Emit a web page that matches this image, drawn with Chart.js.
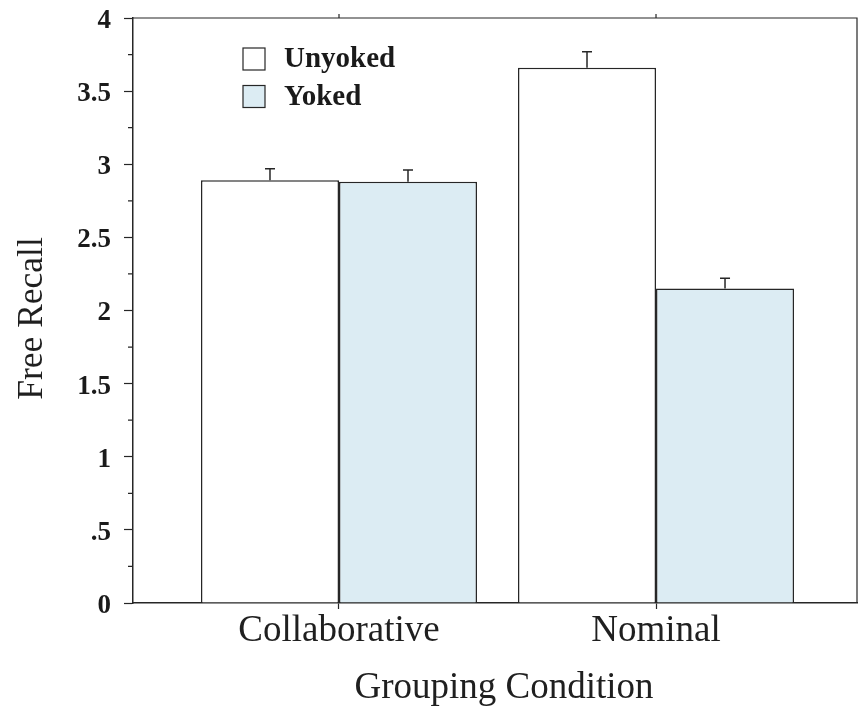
<!DOCTYPE html>
<html>
<head>
<meta charset="utf-8">
<title>Free Recall by Grouping Condition</title>
<script src="https://cdn.jsdelivr.net/npm/chart.js@4.4.1/dist/chart.umd.min.js"></script>
<style>
  html, body { margin: 0; padding: 0; background: #ffffff; }
  #wrap { width: 859px; height: 712px; }
</style>
</head>
<body>
<div id="wrap"><canvas id="c" width="859" height="712"></canvas></div>
<script>
// Group labels and mean free recall per condition
const categories = ['Collaborative', 'Nominal'];
const seriesNames = ['Unyoked', 'Yoked'];
const unyoked = [2.89, 3.66];
const yoked = [2.88, 2.15];
// Standard error (upper whisker only)
const unyokedErr = [0.08, 0.11];
const yokedErr = [0.08, 0.07];
// Y axis tick labels (0 to 4 in steps of .5) and minor tick values
const yTickLabels = ['0', '.5', '1', '1.5', '2', '2.5', '3', '3.5', '4'];
const yMinorTicks = [0.25, 0.75, 1.25, 1.75, 2.25, 2.75, 3.25, 3.75];
// Axis titles
const xTitle = 'Grouping Condition';
const yTitle = 'Free Recall';

const SERIF = '"Liberation Serif", "Times New Roman", Times, serif';
const INK = '#262626';
const YOKED_FILL = 'rgb(220, 236, 243)';

const toPoints = vals => vals.map((v, i) => ({ x: i + 1, y: v }));

// Upper error whiskers with a small cap
const errorBars = {
  id: 'errorBars',
  afterDatasetsDraw(chart) {
    const { ctx } = chart;
    const yScale = chart.scales.y;
    ctx.save();
    ctx.strokeStyle = INK;
    ctx.lineWidth = 1.5;
    chart.data.datasets.forEach((ds, di) => {
      const meta = chart.getDatasetMeta(di);
      meta.data.forEach((bar, i) => {
        const top = yScale.getPixelForValue(ds.data[i].y + ds.errors[i]);
        ctx.beginPath();
        ctx.moveTo(bar.x, bar.y);
        ctx.lineTo(bar.x, top);
        ctx.moveTo(bar.x - 5, top);
        ctx.lineTo(bar.x + 5, top);
        ctx.stroke();
      });
    });
    ctx.restore();
  }
};

// Closed frame: top and right edges, top ticks at group centres, minor y ticks
const frame = {
  id: 'frame',
  afterDraw(chart) {
    const { ctx, chartArea: a } = chart;
    const xs = chart.scales.x, ys = chart.scales.y;
    ctx.save();
    ctx.strokeStyle = INK;
    ctx.lineWidth = 1.2;
    ctx.beginPath();
    ctx.moveTo(a.left, a.top);
    ctx.lineTo(a.right, a.top);
    ctx.lineTo(a.right, a.bottom);
    categories.forEach((c, i) => {
      const px = xs.getPixelForValue(i + 1);
      ctx.moveTo(px, a.top);
      ctx.lineTo(px, a.top - 4);
    });
    yMinorTicks.forEach(v => {
      const py = ys.getPixelForValue(v);
      ctx.moveTo(a.left, py);
      ctx.lineTo(a.left - 5, py);
    });
    ctx.stroke();
    ctx.restore();
  }
};

// Axis titles, placed slightly off the plot centre
const axisTitles = {
  id: 'axisTitles',
  afterDraw(chart) {
    const { ctx, chartArea: a } = chart;
    ctx.save();
    ctx.fillStyle = '#1f1f1f';
    ctx.textAlign = 'center';
    ctx.textBaseline = 'middle';
    ctx.font = '37px ' + SERIF;
    ctx.fillText(xTitle, (a.left + a.right) / 2 + 9, 688);
    ctx.translate(33, (a.top + a.bottom) / 2 + 8);
    ctx.rotate(-Math.PI / 2);
    ctx.font = '35.5px ' + SERIF;
    ctx.fillText(yTitle, 0, 0);
    ctx.restore();
  }
};

// Legend drawn inside the plot, upper left
const innerLegend = {
  id: 'innerLegend',
  afterDraw(chart) {
    const { ctx } = chart;
    ctx.save();
    ctx.font = 'bold 29px ' + SERIF;
    ctx.textBaseline = 'alphabetic';
    ctx.textAlign = 'left';
    chart.data.datasets.forEach((ds, i) => {
      const y = 48 + i * 37.5;
      ctx.fillStyle = ds.backgroundColor;
      ctx.fillRect(243, y, 22, 22);
      ctx.strokeStyle = INK;
      ctx.lineWidth = 1.2;
      ctx.strokeRect(243, y, 22, 22);
      ctx.fillStyle = '#1a1a1a';
      ctx.fillText(ds.label, 284, y + 19);
    });
    ctx.restore();
  }
};

new Chart(document.getElementById('c'), {
  type: 'bar',
  data: {
    datasets: [
      { label: seriesNames[0], data: toPoints(unyoked), errors: unyokedErr,
        backgroundColor: '#ffffff', borderColor: INK, borderWidth: 1.5 },
      { label: seriesNames[1], data: toPoints(yoked), errors: yokedErr,
        backgroundColor: YOKED_FILL, borderColor: INK, borderWidth: 1.5 }
    ]
  },
  options: {
    responsive: false,
    animation: false,
    devicePixelRatio: 1,
    categoryPercentage: 0.8707,
    barPercentage: 1,
    layout: { padding: { left: 0, top: 18, right: 2, bottom: 0 } },
    plugins: { legend: { display: false }, tooltip: { enabled: false } },
    scales: {
      x: {
        type: 'linear',
        offset: false,
        min: 0.3502,
        max: 2.634,
        afterBuildTicks(scale) {
          scale.ticks = categories.map((c, i) => ({ value: i + 1 }));
        },
        afterFit(scale) {
          scale.height = 109;
          scale.paddingLeft = 0;
          scale.paddingRight = 0;
        },
        ticks: {
          callback: (v) => categories[Math.round(v) - 1] || '',
          autoSkip: false,
          maxRotation: 0,
          padding: 0,
          color: '#1f1f1f',
          font: { family: SERIF, size: 37, lineHeight: 1.2 }
        },
        grid: { display: true, offset: false, drawOnChartArea: false, tickLength: 6, tickColor: INK, tickWidth: 1.2 },
        border: { display: true, color: INK, width: 1.5 },
        title: { display: false }
      },
      y: {
        min: 0,
        max: 4,
        afterFit(scale) {
          scale.width = 133;
          scale.paddingTop = 0;
          scale.paddingBottom = 0;
        },
        ticks: {
          stepSize: 0.5,
          callback: (v, i) => yTickLabels[i],
          padding: 13,
          labelOffset: 3,
          color: '#1a1a1a',
          font: { family: SERIF, size: 27, weight: 'bold' }
        },
        grid: { display: true, drawOnChartArea: false, tickLength: 9, tickColor: INK, tickWidth: 1.2 },
        border: { display: true, color: INK, width: 1.5 },
        title: { display: false }
      }
    }
  },
  plugins: [errorBars, frame, axisTitles, innerLegend]
});
</script>
</body>
</html>
